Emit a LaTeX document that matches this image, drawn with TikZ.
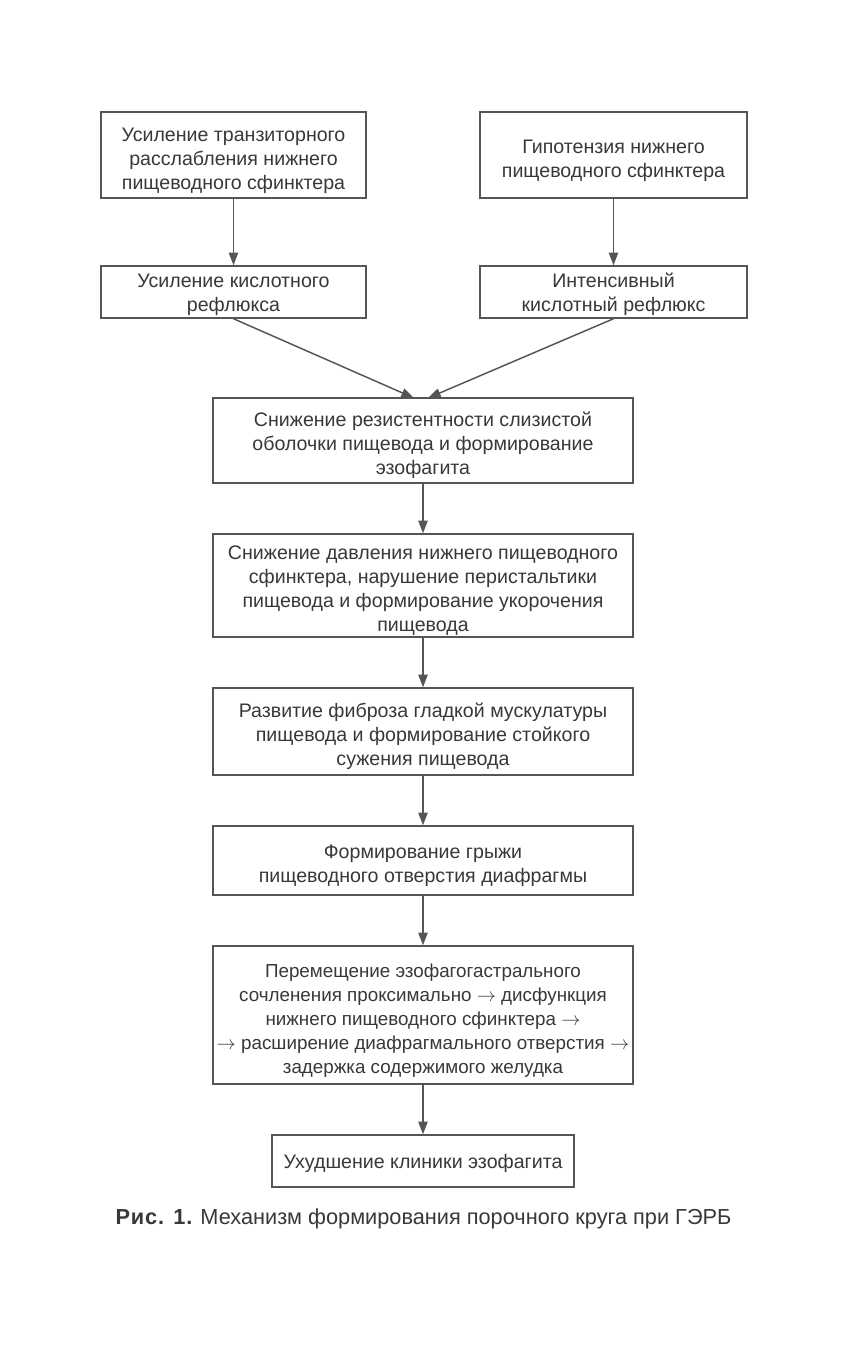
\documentclass[tikz,border=0pt]{standalone}
\usepackage{fontspec}
\setmainfont{Liberation Sans}
\usetikzlibrary{arrows.meta}
\definecolor{ink}{HTML}{383838}
\definecolor{edge}{HTML}{555555}
\newcommand{\rarr}{{\fontsize{13.5}{13.5}\selectfont$\rightarrow$}}
\newcommand{\topst}{\rule{0pt}{19pt}}
\newcommand{\topsm}{\rule{0pt}{15pt}}
\newcommand{\botst}{\rule[-4pt]{0pt}{0pt}}
\begin{document}
\begin{tikzpicture}[x=0.75pt,y=-0.75pt,
  box/.style={draw=edge, line width=1.1pt, rectangle, inner sep=0pt, align=center,
    text=ink, font=\fontsize{14.7}{18}\selectfont},
  arr/.style={draw=edge, line width=1.1pt, -{Triangle[length=9.5pt,width=7pt]}}]
\useasboundingbox (0,0) rectangle (840,1350);
\fill[white] (0,0) rectangle (840,1350);
\node[box, minimum width=265*0.75pt, minimum height=86*0.75pt] (b1) at (233.5,155)
  {\topst Усиление транзиторного\\расслабления нижнего\\пищеводного сфинктера\botst};
\node[box, minimum width=267*0.75pt, minimum height=86*0.75pt] (b2) at (613.5,155)
  {\topst Гипотензия нижнего\\пищеводного сфинктера\botst};
\node[box, minimum width=265*0.75pt, minimum height=52*0.75pt] (b3) at (233.5,292)
  {\topsm Усиление кислотного\\рефлюкса\botst};
\node[box, minimum width=267*0.75pt, minimum height=52*0.75pt] (b4) at (613.5,292)
  {\topsm Интенсивный\\кислотный рефлюкс\botst};
\node[box, minimum width=420*0.75pt, minimum height=85*0.75pt] (b5) at (423,440.5)
  {\topst Снижение резистентности слизистой\\оболочки пищевода и формирование\\эзофагита\botst};
\node[box, minimum width=420*0.75pt, minimum height=103*0.75pt] (b6) at (423,585.5)
  {\topst Снижение давления нижнего пищеводного\\сфинктера, нарушение перистальтики\\пищевода и формирование укорочения\\пищевода\botst};
\node[box, minimum width=420*0.75pt, minimum height=87*0.75pt] (b7) at (423,731.5)
  {\topst Развитие фиброза гладкой мускулатуры\\пищевода и формирование стойкого\\сужения пищевода\botst};
\node[box, minimum width=420*0.75pt, minimum height=69*0.75pt] (b8) at (423,860.5)
  {\topst Формирование грыжи\\пищеводного отверстия диафрагмы\botst};
\node[box, minimum width=420*0.75pt, minimum height=138*0.75pt, font=\fontsize{14.1}{18}\selectfont] (b9) at (423,1015)
  {\topst Перемещение эзофагогастрального\\сочленения проксимально \rarr{} дисфункция\\нижнего пищеводного сфинктера \rarr\\\rarr{} расширение диафрагмального отверстия \rarr\\задержка содержимого желудка\botst};
\node[box, minimum width=302*0.75pt, minimum height=52*0.75pt] (b10) at (423,1161)
  {\topsm Ухудшение клиники эзофагита\botst};
\coordinate (m1) at (414,398);
\coordinate (m2) at (428,398);
\draw[arr] (b1) -- (b3);
\draw[arr] (b2) -- (b4);
\draw[arr] (b3.south) -- (m1);
\draw[arr] (b4.south) -- (m2);
\draw[arr] (b5) -- (b6);
\draw[arr] (b6) -- (b7);
\draw[arr] (b7) -- (b8);
\draw[arr] (b8) -- (b9);
\draw[arr] (b9) -- (b10);
\node[text=ink, font=\fontsize{16.3}{18}\selectfont, inner sep=0pt] (cap) at (423.5,1219)
  {{\addfontfeature{LetterSpace=4}\bfseries Рис. 1.} Механизм формирования порочного круга при ГЭРБ};
\end{tikzpicture}
\end{document}
